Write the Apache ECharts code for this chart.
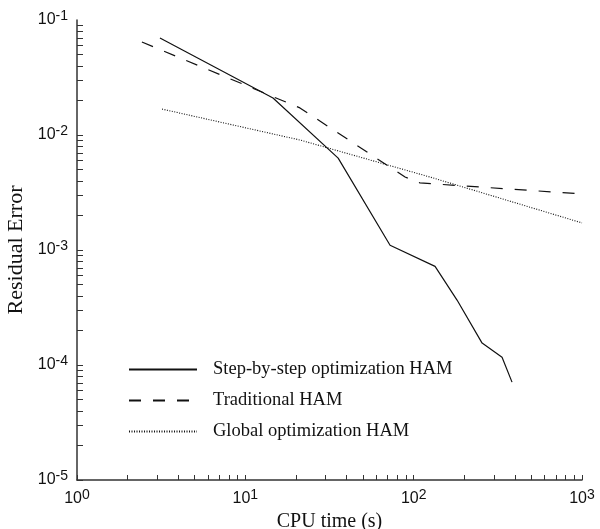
<!DOCTYPE html>
<html>
<head>
<meta charset="utf-8">
<script src="https://cdn.jsdelivr.net/npm/echarts@6/dist/echarts.min.js"></script>
<style>html,body{margin:0;padding:0;background:#fff}#c{width:600px;height:529px}</style>
</head>
<body>
<div id="c"></div>
<script>
// CPU time (s) and residual error for each method
const stepX = [3.11, 14.6, 35.6, 72.4, 134, 181, 255, 335, 384];
const stepY = [0.0697, 0.0210, 0.0063, 0.00110, 0.00072, 0.000367, 0.000155, 0.000117, 0.000071];
const tradX = [2.43, 21.1, 88.9, 109, 1000];
const tradY = [0.0644, 0.0172, 0.00431, 0.00383, 0.00307];
const globX = [3.2, 21.1, 125, 1000];
const globY = [0.0168, 0.00905, 0.00431, 0.00172];
const seriesNames = ['Step-by-step optimization HAM', 'Traditional HAM', 'Global optimization HAM'];
// tick values
const xTicks = [1,2,3,4,5,6,7,8,9,10,20,30,40,50,60,70,80,90,100,200,300,400,500,600,700,800,900,1000];
const yTicks = [1e-5,2e-5,3e-5,4e-5,5e-5,6e-5,7e-5,8e-5,9e-5,1e-4,2e-4,3e-4,4e-4,5e-4,6e-4,7e-4,8e-4,9e-4,1e-3,2e-3,3e-3,4e-3,5e-3,6e-3,7e-3,8e-3,9e-3,1e-2,2e-2,3e-2,4e-2,5e-2,6e-2,7e-2,8e-2,9e-2,1e-1];

function pairs(xs, ys){ return xs.map((x,i)=>[x, ys[i]]); }
function powLabel(v){
  const e = Math.round(Math.log10(v));
  return '{b|10}{s|' + e + '}';
}
const rich = {
  b: {fontFamily: 'Liberation Sans', fontSize: 16, color: '#111'},
  s: {fontFamily: 'Liberation Sans', fontSize: 14, color: '#111', padding: [0,0,8,0]}
};
const axisLine = {show: true, lineStyle: {color: '#333', width: 1.5}};
const serif = 'Liberation Serif';
const chart = echarts.init(document.getElementById('c'), null, {renderer: 'canvas'});
chart.setOption({
  animation: false,
  backgroundColor: '#fff',
  grid: {left: 77, right: 18, top: 20, bottom: 49, containLabel: false, outerBoundsMode: 'none'},
  legend: {
    orient: 'vertical', left: 123, top: 355,
    itemWidth: 68, itemHeight: 14, itemGap: 12,
    itemStyle: {opacity: 0},
    textStyle: {fontFamily: serif, fontSize: 18.5, color: '#111', padding: [0,0,0,11]},
    data: seriesNames
  },
  xAxis: {
    type: 'log', logBase: 10, min: 1, max: 1000,
    name: 'CPU time (s)', nameLocation: 'middle', nameGap: 24,
    nameTextStyle: {fontFamily: serif, fontSize: 20, color: '#111'},
    axisLine: axisLine,
    axisTick: {show: true, inside: true, length: 5, customValues: xTicks, lineStyle: {color: '#333', width: 1}},
    minorTick: {show: false},
    axisLabel: {formatter: powLabel, rich: rich, margin: 8},
    splitLine: {show: false}
  },
  yAxis: {
    type: 'log', logBase: 10, min: 1e-5, max: 0.1,
    name: 'Residual Error', nameLocation: 'middle', nameGap: 47,
    nameTextStyle: {fontFamily: serif, fontSize: 22, color: '#111'},
    axisLine: axisLine,
    axisTick: {show: true, inside: true, length: 6, customValues: yTicks, lineStyle: {color: '#333', width: 1}},
    minorTick: {show: false},
    axisLabel: {formatter: powLabel, rich: rich, margin: 9},
    splitLine: {show: false}
  },
  series: [
    {name: seriesNames[0], type: 'line', data: pairs(stepX, stepY), symbol: 'none',
     lineStyle: {color: '#111', width: 1.2, type: 'solid'}, itemStyle: {color: '#111'}},
    {name: seriesNames[1], type: 'line', data: pairs(tradX, tradY), symbol: 'none',
     lineStyle: {color: '#111', width: 1.2, type: [12, 12]}, itemStyle: {color: '#111'}},
    {name: seriesNames[2], type: 'line', data: pairs(globX, globY), symbol: 'none',
     lineStyle: {color: '#111', width: 1.1, type: [1, 1.5]}, itemStyle: {color: '#111'}}
  ]
});
</script>
</body>
</html>
